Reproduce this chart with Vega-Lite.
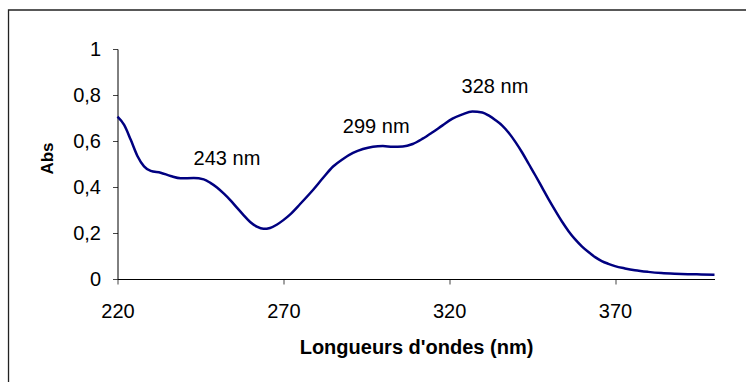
{
  "$schema": "https://vega.github.io/schema/vega-lite/v6.json",
  "width": 597,
  "height": 230,
  "autosize": {"type": "none"},
  "padding": {"left": 117.5, "top": 49, "right": 31.5, "bottom": 103},
  "background": "white",
  "config": {
    "view": {"stroke": null},
    "font": "Liberation Sans",
    "axis": {"grid": false, "domainColor": "#000", "tickColor": "#444", "labelColor": "#000", "titleColor": "#000", "labelFont": "Liberation Sans", "titleFont": "Liberation Sans", "labelFlush": false}
  },
  "datasets": {
    "spectrum": [
      {"nm": 220, "abs": 0.706}, {"nm": 222, "abs": 0.67}, {"nm": 224, "abs": 0.605}, {"nm": 226, "abs": 0.535},
      {"nm": 228, "abs": 0.49}, {"nm": 230, "abs": 0.47}, {"nm": 233, "abs": 0.462}, {"nm": 236, "abs": 0.448},
      {"nm": 239, "abs": 0.438}, {"nm": 243, "abs": 0.439}, {"nm": 246, "abs": 0.433}, {"nm": 248, "abs": 0.418},
      {"nm": 250, "abs": 0.398}, {"nm": 252, "abs": 0.372}, {"nm": 254, "abs": 0.343}, {"nm": 256, "abs": 0.31},
      {"nm": 258, "abs": 0.278}, {"nm": 260, "abs": 0.248}, {"nm": 262, "abs": 0.228}, {"nm": 264, "abs": 0.218},
      {"nm": 266, "abs": 0.222}, {"nm": 268, "abs": 0.236}, {"nm": 270, "abs": 0.256}, {"nm": 272, "abs": 0.28},
      {"nm": 275, "abs": 0.325}, {"nm": 279, "abs": 0.388}, {"nm": 282, "abs": 0.44}, {"nm": 285, "abs": 0.489},
      {"nm": 288, "abs": 0.522}, {"nm": 291, "abs": 0.548}, {"nm": 294, "abs": 0.565}, {"nm": 297, "abs": 0.575},
      {"nm": 300, "abs": 0.578}, {"nm": 303, "abs": 0.575}, {"nm": 306, "abs": 0.576}, {"nm": 309, "abs": 0.587},
      {"nm": 312, "abs": 0.61}, {"nm": 315, "abs": 0.638}, {"nm": 318, "abs": 0.668}, {"nm": 321, "abs": 0.697},
      {"nm": 324, "abs": 0.716}, {"nm": 327, "abs": 0.728}, {"nm": 330, "abs": 0.724}, {"nm": 332, "abs": 0.71},
      {"nm": 334, "abs": 0.69}, {"nm": 336, "abs": 0.667}, {"nm": 338, "abs": 0.635}, {"nm": 340, "abs": 0.595},
      {"nm": 342, "abs": 0.55}, {"nm": 344, "abs": 0.5}, {"nm": 346, "abs": 0.45}, {"nm": 348, "abs": 0.398},
      {"nm": 350, "abs": 0.346}, {"nm": 352, "abs": 0.297}, {"nm": 354, "abs": 0.25}, {"nm": 356, "abs": 0.208},
      {"nm": 358, "abs": 0.172}, {"nm": 360, "abs": 0.142}, {"nm": 362, "abs": 0.117}, {"nm": 364, "abs": 0.095},
      {"nm": 366, "abs": 0.078}, {"nm": 368, "abs": 0.066}, {"nm": 370, "abs": 0.056}, {"nm": 373, "abs": 0.046},
      {"nm": 376, "abs": 0.038}, {"nm": 380, "abs": 0.031}, {"nm": 384, "abs": 0.026}, {"nm": 388, "abs": 0.023},
      {"nm": 392, "abs": 0.021}, {"nm": 396, "abs": 0.02}, {"nm": 400, "abs": 0.019}
    ],
    "peaks": [
      {"nm": 253, "abs": 0.521, "label": "243 nm"},
      {"nm": 298, "abs": 0.659, "label": "299 nm"},
      {"nm": 333.8, "abs": 0.833, "label": "328 nm"}
    ]
  },
  "layer": [
    {
      "data": {"values": [{}]},
      "mark": {"type": "rect", "fill": "transparent", "stroke": "#222", "strokeWidth": 1.3, "clip": false},
      "encoding": {
        "x": {"datum": 187.14, "type": "quantitative", "scale": {"domain": [220, 400], "nice": false, "zero": false}},
        "x2": {"datum": 420},
        "y": {"datum": 1.1696, "type": "quantitative", "scale": {"domain": [0, 1], "nice": false}},
        "y2": {"datum": -0.6}
      }
    },
    {
      "data": {"name": "spectrum"},
      "mark": {"type": "line", "color": "#000080", "strokeWidth": 2.5, "interpolate": "monotone"},
      "encoding": {
        "x": {
          "field": "nm", "type": "quantitative",
          "scale": {"domain": [220, 400], "nice": false, "zero": false},
          "axis": {
            "values": [220, 270, 320, 370], "tickSize": 5, "labelPadding": 17, "labelFontSize": 20,
            "title": "Longueurs d'ondes (nm)", "titleFontSize": 20, "titleFontWeight": "bold",
            "titleBaseline": "alphabetic", "titleY": 74
          }
        },
        "y": {
          "field": "abs", "type": "quantitative",
          "scale": {"domain": [0, 1], "nice": false},
          "axis": {
            "values": [0, 0.2, 0.4, 0.6, 0.8, 1], "tickSize": 5, "labelPadding": 12, "labelFontSize": 20,
            "labelExpr": "replace(format(datum.value, '.1~f'), '.', ',')",
            "title": "Abs", "titleFontSize": 17, "titleFontWeight": "bold",
            "titleX": -70, "titleY": 109, "titleBaseline": "middle", "titleAlign": "center", "titleAngle": 270
          }
        }
      }
    },
    {
      "data": {"name": "peaks"},
      "mark": {"type": "text", "fontSize": 20, "color": "#000", "baseline": "middle", "align": "center"},
      "encoding": {
        "x": {"field": "nm", "type": "quantitative"},
        "y": {"field": "abs", "type": "quantitative"},
        "text": {"field": "label"}
      }
    }
  ]
}
